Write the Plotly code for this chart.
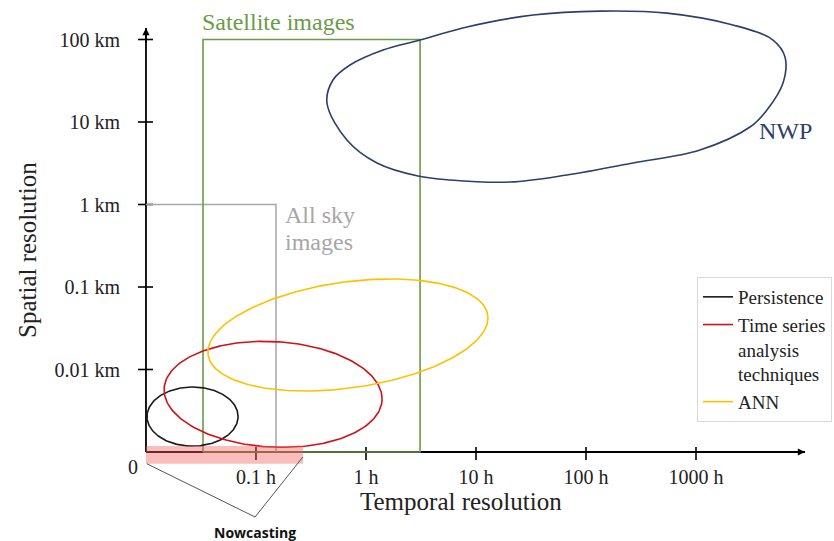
import numpy as np
import plotly.graph_objects as go

# ---------------- data ----------------
x_tick_hours = [0.1, 1, 10, 100, 1000]
x_tick_text = ["0.1 h", "1 h", "10 h", "100 h", "1000 h"]
y_tick_km = [0.01, 0.1, 1, 10, 100]
y_tick_text = ["0.01 km", "0.1 km", "1 km", "10 km", "100 km"]

origin_hours = 0.01
origin_km = 0.001
x_axis_end_hours = 9800
y_axis_end_km = 138

# Satellite images region
sat_hours = [0.033, 3.1]
sat_km = [0.001, 100]
# All sky images region
sky_hours = [0.01, 0.152]
sky_km = [0.001, 1]
# Nowcasting range
now_hours = [0.01, 0.267]
now_km = [0.00072, 0.00118]
bracket_hours = [0.0102, 0.098, 0.267]
bracket_km = [0.00072, 0.000163, 0.00087]

# Forecast methods (ellipses)
methods = ["Persistence", "Time series<br>analysis<br>techniques", "ANN"]
method_colors = ["#1a1a1a", "#d0101a", "#ffc000"]
center_hours = [0.0265, 0.143, 0.685]
center_km = [0.00269, 0.0050, 0.0262]
half_width_dec = [0.414, 0.991, 1.273]
half_height_dec = [0.358, 0.640, 0.647]
tilt = [0.0, -0.055, 0.162]

# NWP outline
nwp_hours = [134, 545, 2168, 5012, 6442, 6180, 4416, 3097, 1086, 267, 67.1, 20.4,
             5.81, 2.97, 1.26, 0.671, 0.442, 0.501, 0.716, 1.43, 3.10, 8.28, 33.0, 134]
nwp_km = [221, 209, 150, 98.6, 61.4, 29.7, 14.0, 8.69, 4.58, 3.18, 2.28, 1.87,
          1.98, 2.21, 3.18, 6.05, 17.0, 32.3, 49.1, 74.6, 98.6, 142, 198, 221]

# ---------------- style ----------------
SERIF = "Liberation Serif"
GREEN = "#6b9b47"
NAVY = "#2c3e6b"
GRAY = "#a6a6a6"

fig = go.Figure()

lo_x, lo_y = np.log10(origin_hours), np.log10(origin_km)

# axis lines
fig.add_trace(go.Scatter(x=[origin_hours, x_axis_end_hours], y=[origin_km, origin_km],
                         mode="lines", line=dict(color="black", width=1.8),
                         showlegend=False, hoverinfo="skip"))
fig.add_trace(go.Scatter(x=[origin_hours, origin_hours], y=[origin_km, y_axis_end_km],
                         mode="lines", line=dict(color="black", width=1.8),
                         showlegend=False, hoverinfo="skip"))

# tick marks crossing the axes
tx, ty = [], []
for h in x_tick_hours:
    tx += [h, h, None]
    ty += [10 ** (lo_y - 8 / 82.5), 10 ** (lo_y + 5 / 82.5), None]
for k in y_tick_km:
    tx += [10 ** (lo_x - 8 / 110), 10 ** (lo_x + 7 / 110), None]
    ty += [k, k, None]
fig.add_trace(go.Scatter(x=tx, y=ty, mode="lines", line=dict(color="black", width=1.6),
                         showlegend=False, hoverinfo="skip"))

# All sky images
fig.add_trace(go.Scatter(x=[sky_hours[0], sky_hours[1], sky_hours[1]],
                         y=[sky_km[1], sky_km[1], sky_km[0]], mode="lines",
                         line=dict(color=GRAY, width=1.5), showlegend=False, hoverinfo="skip"))
# Satellite images
fig.add_trace(go.Scatter(x=[sat_hours[0], sat_hours[0], sat_hours[1], sat_hours[1], sat_hours[0]],
                         y=[sat_km[0], sat_km[1], sat_km[1], sat_km[0], sat_km[0]], mode="lines",
                         line=dict(color=GREEN, width=1.6), showlegend=False, hoverinfo="skip"))

# NWP
fig.add_trace(go.Scatter(x=nwp_hours, y=nwp_km, mode="lines",
                         line=dict(color=NAVY, width=1.6, shape="spline", smoothing=1.0),
                         showlegend=False, hoverinfo="skip"))

# method ellipses
t = np.linspace(0, 2 * np.pi, 241)
for name, col, ch, ck, rx, ry, k in zip(methods, method_colors, center_hours, center_km,
                                         half_width_dec, half_height_dec, tilt):
    lx = np.log10(ch) + rx * np.cos(t)
    ly = np.log10(ck) + ry * np.sin(t) + k * rx * np.cos(t)
    fig.add_trace(go.Scatter(x=10 ** lx, y=10 ** ly, mode="lines", name=name,
                             line=dict(color=col, width=1.6), hoverinfo="skip"))

# Nowcasting band
fig.add_trace(go.Scatter(x=[now_hours[0], now_hours[1], now_hours[1], now_hours[0], now_hours[0]],
                         y=[now_km[0], now_km[0], now_km[1], now_km[1], now_km[0]],
                         mode="lines", fill="toself", fillcolor="rgba(245,95,95,0.42)",
                         line=dict(width=0), showlegend=False, hoverinfo="skip"))
fig.add_trace(go.Scatter(x=bracket_hours, y=bracket_km, mode="lines",
                         line=dict(color="#555555", width=1), showlegend=False, hoverinfo="skip"))

# arrowheads
fig.add_annotation(x=np.log10(x_axis_end_hours), y=lo_y, ax=np.log10(x_axis_end_hours) - 0.2, ay=lo_y,
                   axref="x", ayref="y", xref="x", yref="y", text="", showarrow=True,
                   arrowhead=2, arrowsize=0.9, arrowwidth=1.6, arrowcolor="black")
fig.add_annotation(x=lo_x, y=np.log10(y_axis_end_km), ax=lo_x, ay=np.log10(y_axis_end_km) - 0.2,
                   axref="x", ayref="y", xref="x", yref="y", text="", showarrow=True,
                   arrowhead=2, arrowsize=0.9, arrowwidth=1.6, arrowcolor="black")

# texts
def lbl(text, x, y, size, color="#222222", family=SERIF, xanchor="center", angle=0, bold=False):
    fig.add_annotation(x=x, y=y, xref="x", yref="y", text=f"<b>{text}</b>" if bold else text,
                       showarrow=False, xanchor=xanchor, yanchor="middle", textangle=angle,
                       font=dict(family=family, size=size, color=color))

lbl("Satellite images", -1.509, 2.212, 24, GREEN, family=SERIF, xanchor="left")
lbl("All sky", -0.755, (452 - 215) / 82.5 - 3, 24, GRAY, family=SERIF, xanchor="left")
lbl("images", -0.755, (452 - 242) / 82.5 - 3, 24, GRAY, family=SERIF, xanchor="left")
lbl("NWP", 3.555, 0.891, 24, NAVY, family=SERIF, xanchor="left")
lbl("0", -2.118, -3.182, 20)
lbl("Temporal resolution", 0.864, -3.606, 25)
lbl("Spatial resolution", -3.082, -0.552, 25, angle=-90)
lbl("Nowcasting", -1.009, -3.970, 14, "#111111", family="Open Sans", bold=True)

fig.update_layout(
    width=834, height=541, autosize=False,
    margin=dict(l=0, r=0, t=0, b=0),
    paper_bgcolor="white", plot_bgcolor="white",
    xaxis=dict(type="log", range=[-3.327, 4.2545], anchor="free", position=89 / 541,
               showline=False, showgrid=False, zeroline=False, ticks="",
               tickvals=x_tick_hours, ticktext=x_tick_text, ticklabelstandoff=11,
               tickfont=dict(family=SERIF, size=20, color="#222222")),
    yaxis=dict(type="log", range=[-4.0788, 2.4788], anchor="free", position=146 / 834,
               showline=False, showgrid=False, zeroline=False, ticks="",
               tickvals=y_tick_km, ticktext=y_tick_text, ticklabelstandoff=26,
               tickfont=dict(family=SERIF, size=20, color="#222222")),
    legend=dict(x=697 / 834, y=1 - 277 / 541, xanchor="left", yanchor="top", valign="top",
                bordercolor="#d9d9d9", borderwidth=1, bgcolor="white",
                font=dict(family=SERIF, size=19, color="#222222"), tracegroupgap=0),
    showlegend=True,
)

fig.write_html("out.html")
